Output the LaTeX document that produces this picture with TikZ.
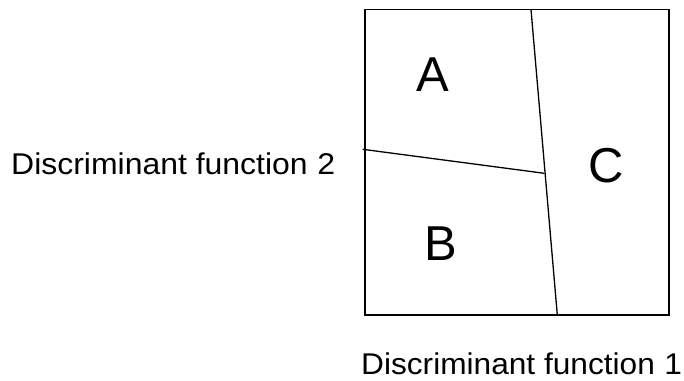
\documentclass[tikz,border=0pt]{standalone}
\usepackage{fontspec}
\usepackage{graphicx}
\setmainfont{Liberation Sans}
\begin{document}
\begin{tikzpicture}[x=1pt,y=1pt,
  axislabel/.style={font=\fontsize{30}{36}\selectfont, inner sep=0pt, anchor=base west},
  region/.style={font=\fontsize{49}{58}\selectfont, inner sep=0pt, anchor=base},
  frame/.style={line width=1.6pt},
  divider/.style={line width=1.3pt}]
\useasboundingbox (0,0) rectangle (684,380);
\coordinate (bl) at (365,65);
\coordinate (tr) at (669,370.5);
\draw[frame] (bl) rectangle (tr);
\coordinate (vtop) at (531,370.5);
\coordinate (vbot) at (557.3,65);
\coordinate (hleft) at (362.7,230.7);
\coordinate (hright) at (544.3,206.7);
\draw[divider] (vtop) -- (vbot);
\draw[divider] (hleft) -- (hright);
\node[region] (A) at (433,288) {A};
\node[region] (B) at (441,119) {B};
\node[region] (C) at (606,197) {C};
\node[axislabel] (f2) at (11,205) {\scalebox{1.065}[1]{Discriminant function\hspace{0.3em}2}};
\node[axislabel] (f1) at (361,6) {\scalebox{1.055}[1]{Discriminant function\hspace{0.3em}1}};
\end{tikzpicture}
\end{document}
